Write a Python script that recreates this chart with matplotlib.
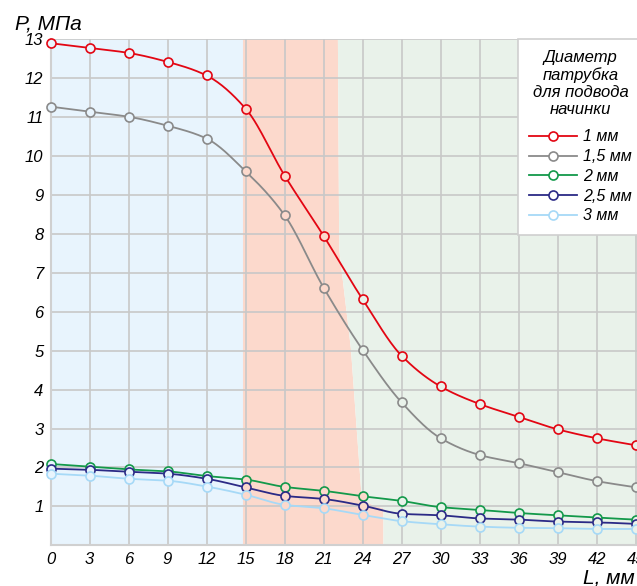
import numpy as np
import matplotlib
matplotlib.use("Agg")
import matplotlib.pyplot as plt
from matplotlib.lines import Line2D

plt.rcParams['font.family'] = ['Liberation Sans', 'DejaVu Sans']

# ---- data ----
L = [0, 3, 6, 9, 12, 15, 18, 21, 24, 27, 30, 33, 36, 39, 42, 45]
p_1mm = [12.90, 12.78, 12.65, 12.42, 12.07, 11.22, 9.50, 7.95, 6.32, 4.87, 4.08, 3.63, 3.30, 2.98, 2.75, 2.57]
p_15mm = [11.27, 11.14, 11.01, 10.78, 10.45, 9.61, 8.48, 6.62, 5.02, 3.67, 2.75, 2.32, 2.11, 1.88, 1.65, 1.49]
p_2mm = [2.09, 2.02, 1.95, 1.90, 1.78, 1.69, 1.50, 1.40, 1.26, 1.14, 0.98, 0.91, 0.83, 0.77, 0.71, 0.66]
p_25mm = [1.97, 1.94, 1.89, 1.84, 1.71, 1.49, 1.27, 1.19, 1.02, 0.81, 0.77, 0.69, 0.66, 0.61, 0.59, 0.55]
p_3mm = [1.84, 1.79, 1.71, 1.66, 1.51, 1.30, 1.04, 0.95, 0.78, 0.62, 0.54, 0.48, 0.45, 0.44, 0.42, 0.42]
labels = ['1 мм', '1,5 мм', '2 мм', '2,5 мм', '3 мм']
colors = ['#e30613', '#8a8a8a', '#13994a', '#2b2a86', '#a6d9f7']
series = [p_1mm, p_15mm, p_2mm, p_25mm, p_3mm]

# zone boundaries (data coords)
zone1_end = 14.8
bound_x = [22.1, 22.2, 23.1, 23.9, 24.3, 25.1, 25.6, 25.6]
bound_y = [13.0, 7.6, 5.05, 1.35, 1.1, 1.0, 0.95, 0.0]
c_blue, c_salmon, c_green = '#e8f4fd', '#fcd9cc', '#e9f2ea'

def pchip(x, y, xn):
    x = np.asarray(x, float); y = np.asarray(y, float)
    h = np.diff(x); d = np.diff(y) / h
    m = np.zeros_like(y)
    for k in range(1, len(x) - 1):
        if d[k-1] * d[k] > 0:
            w1 = 2*h[k] + h[k-1]; w2 = h[k] + 2*h[k-1]
            m[k] = (w1 + w2) / (w1/d[k-1] + w2/d[k])
    m[0] = d[0]; m[-1] = d[-1]
    idx = np.clip(np.searchsorted(x, xn) - 1, 0, len(x) - 2)
    t = (xn - x[idx]) / h[idx]
    h00 = 2*t**3 - 3*t**2 + 1; h10 = t**3 - 2*t**2 + t
    h01 = -2*t**3 + 3*t**2; h11 = t**3 - t**2
    return h00*y[idx] + h10*h[idx]*m[idx] + h01*y[idx+1] + h11*h[idx]*m[idx+1]

fig = plt.figure(figsize=(6.37, 5.86), dpi=100)
ax = fig.add_axes([50.5/637, (586-545.3)/586, 586.5/637, (545.3-39.3)/586])
ax.set_xlim(0, 45.1)
ax.set_ylim(0, 13)

ax.axvspan(0, zone1_end, color=c_blue, lw=0, zorder=0)
ax.fill([zone1_end] + bound_x + [zone1_end], [13] + bound_y + [0], color=c_salmon, lw=0, zorder=0)
ax.fill(bound_x + [45.1, 45.1], bound_y + [0, 13], color=c_green, lw=0, zorder=0)

ax.set_xticks(L)
ax.set_yticks(range(1, 14))
ax.grid(True, color='#c8c8c8', lw=1.2)
ax.set_axisbelow(True)
for s in ['top', 'right']:
    ax.spines[s].set_visible(False)
for s in ['left', 'bottom']:
    ax.spines[s].set_color('#d0d0d0')
    ax.spines[s].set_linewidth(1.5)
ax.tick_params(length=0, labelsize=12, pad=5)
for t in ax.get_xticklabels() + ax.get_yticklabels():
    t.set_fontstyle('italic')

xs = np.linspace(0, 45, 400)
handles = []
rb_y = bound_y[::-1]; rb_x = bound_x[::-1]
for vals, col, lab in zip(series, colors, labels):
    ax.plot(xs, pchip(L, vals, xs), color=col, lw=1.3, zorder=3)
    for x, y in zip(L, vals):
        bx = np.interp(y, rb_y, rb_x)
        fc = c_blue if x < zone1_end else (c_salmon if x < bx else c_green)
        ax.plot([x], [y], 'o', ms=6.5, mfc=fc, mec=col, mew=1.2, zorder=4, clip_on=False)
    handles.append(Line2D([], [], color=col, lw=1.3, marker='o', ms=6.5, mfc='white', mec=col, mew=1.2))

leg = fig.legend(handles, labels, loc='upper left', bbox_to_anchor=(518/637, 1 - 39.3/586),
                 title='Диаметр\nпатрубка\nдля подвода\nначинки', frameon=True, fancybox=False,
                 edgecolor='#cfcfcf', facecolor='white', framealpha=1, borderaxespad=0,
                 prop={'style': 'italic', 'size': 11.5}, title_fontproperties={'style': 'italic', 'size': 12},
                 handlelength=3.0, handletextpad=0.4, labelspacing=0.3, borderpad=0.7)
leg.get_frame().set_linewidth(1.2)
leg.get_title().set_multialignment('center')
leg.get_title().set_linespacing(1.15)
leg._legend_box.sep = 9

fig.text(15/637, 1 - 29/586, 'P, МПа', fontsize=15, fontstyle='italic', ha='left', va='baseline')
fig.text(583/637, 3/586, 'L, мм', fontsize=15, fontstyle='italic', ha='left', va='baseline')

fig.savefig('out.png', dpi=100)
